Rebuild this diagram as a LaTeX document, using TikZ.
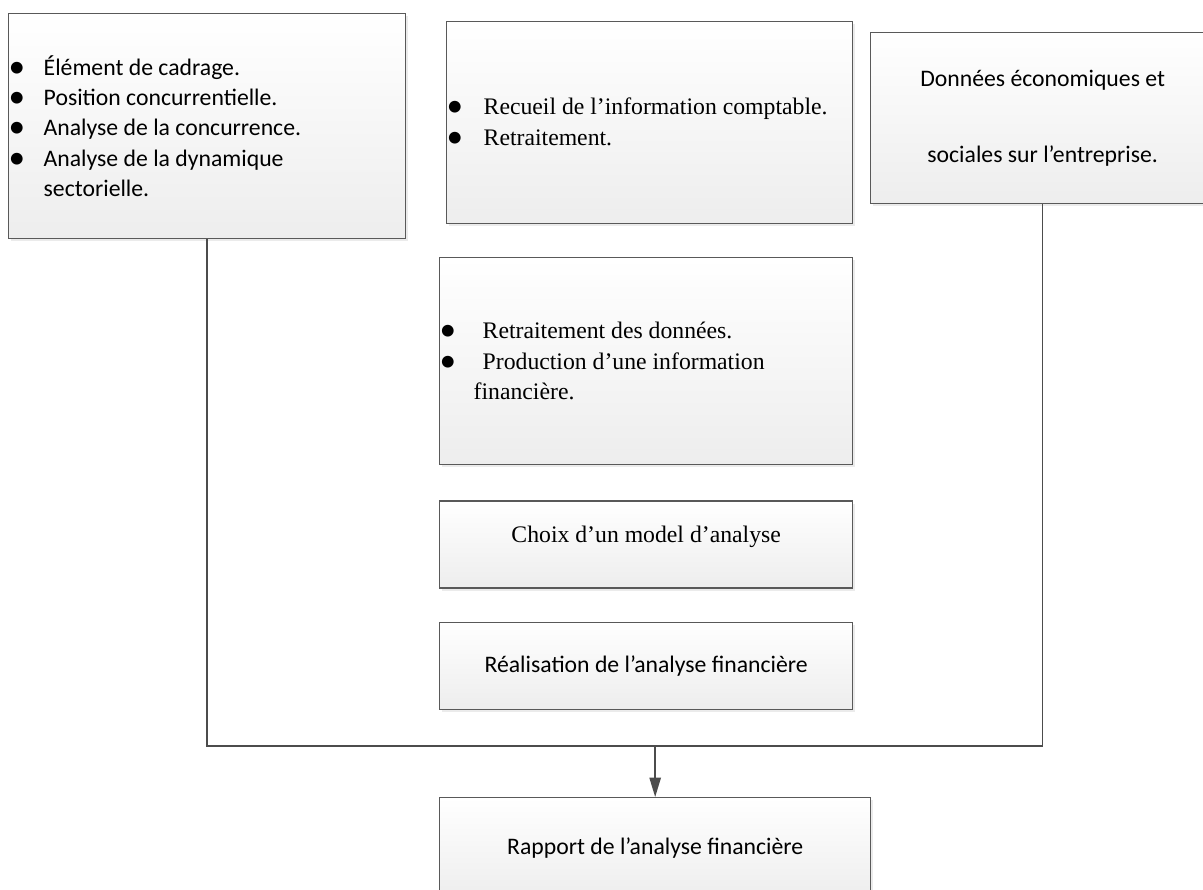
\documentclass[tikz,border=0pt]{standalone}
\usepackage{fontspec}
\setmainfont{Liberation Serif}
\newfontfamily\sanscal{Carlito}
\usetikzlibrary{arrows.meta,positioning,shadows}
\newcommand{\puce}[1][0.7cm]{\makebox[#1][l]{\sanscal\raisebox{-0.08em}{\scalebox{1.4}{\textbullet}}}}
\newcommand{\taille}{\fontsize{13.5}{17.2}\selectfont}

\begin{document}
\begin{tikzpicture}[x=0.02cm, y=-0.02cm]
\tikzset{
    %pointe de fleche
    >={Triangle[length=11pt,width=6.5pt]},
    %style des cadres
    cadre/.style={
           rectangle,
           inner sep=0pt,
           line width=0.8pt,draw=black!65,
           top color=white,bottom color=black!7,
           drop shadow={shadow xshift=1.5pt,shadow yshift=-1.5pt,fill=black!20,opacity=0.4}},
    cadresans/.style={
           cadre,
           font=\sanscal\taille},
    cadreserif/.style={
           cadre,
           font=\taille},
    lien/.style={
           line width=0.8pt,draw=black!70}
}
\useasboundingbox (0,0) rectangle (1203,889);

%Cadres du haut
\node(cadrage)  [cadresans,anchor=north west,minimum width=7.94cm,minimum height=4.5cm,text width=7.94cm,align=flush left] at (8,13)
    {\puce Élément de cadrage.\\ \puce Position concurrentielle.\\ \puce Analyse de la concurrence.\\ \puce Analyse de la dynamique\\ \hspace*{0.7cm}sectorielle.};
\node(recueil)  [cadreserif,anchor=north west,minimum width=8.12cm,minimum height=4.04cm,text width=8.12cm,align=flush left] at (446,21)
    {\puce[0.74cm]Recueil de l’information comptable.\\ \puce[0.74cm]Retraitement.};
\node(donnees)  [cadresans,anchor=north west,minimum width=6.88cm,minimum height=3.42cm,align=center] at (870,32)
    {Données économiques et\\[26pt] sociales sur l’entreprise.};

%Colonne du milieu
\node(retrait)  [cadreserif,below=0.65cm of recueil.south east,anchor=north east,minimum width=8.26cm,minimum height=4.14cm,text width=8.26cm,align=flush left]
    {\puce[0.86cm]Retraitement des données.\\ \puce[0.86cm]Production d’une information\\ \hspace*{0.68cm}financière.};
\node(choix)    [cadreserif,below=0.7cm of retrait,minimum width=8.26cm,minimum height=1.74cm,text depth=0.42cm]    {Choix d’un model d’analyse};
\node(realis)   [cadresans,below=0.66cm of choix,minimum width=8.26cm,minimum height=1.74cm]    {Réalisation de l’analyse financière};
\node(rapport)  [cadresans,below=1.74cm of realis.south west,anchor=north west,minimum width=8.62cm,minimum height=2.02cm]    {Rapport de l’analyse financière};

%Liens
\coordinate[above=1.02cm of rapport.north] (jonction);
\draw[lien] (cadrage.south) |- (jonction);
\draw[lien] (donnees.south) |- (jonction);
\draw[lien,->] (jonction) -- (rapport.north);
\end{tikzpicture}
\end{document}
